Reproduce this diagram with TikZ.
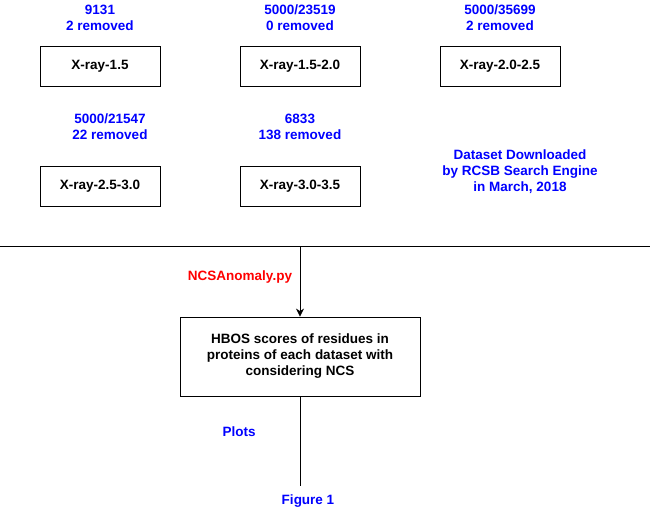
\documentclass[tikz,border=0pt]{standalone}
\usepackage{fontspec}
\setmainfont{Liberation Sans}
\usetikzlibrary{arrows.meta,positioning}

\begin{document}
\begin{tikzpicture}[%
    x=1pt, y=-1pt,              % work in picture pixels, top-down
    font=\bfseries\fontsize{13.5}{16}\selectfont,
    ]
% -------------------------------------------------
% A few box styles
\tikzset{
  base/.style={align=center, inner sep=0pt},
  set/.style={base, draw, thick, minimum width=120pt, minimum height=40pt},
  proc/.style={base, draw, thick, minimum width=240pt, minimum height=79pt},
  info/.style={base, text=blue},
  tool/.style={base, text=red},
  norm/.style={-{Stealth[length=8pt,width=8pt,inset=2.5pt]}, draw, thick},
}
\useasboundingbox (0,0) rectangle (653,517);
% -------------------------------------------------
% Datasets and their counts
\node [set] (a) at (100,66)  {X-ray-1.5};
\node [set] (b) at (300,66)  {X-ray-1.5-2.0};
\node [set] (c) at (500,66)  {X-ray-2.0-2.5};
\node [set] (d) at (100,186) {X-ray-2.5-3.0};
\node [set] (e) at (300,186) {X-ray-3.0-3.5};

\node [info] (na) at (100,18)  {9131\\2 removed};
\node [info] (nb) at (300,18)  {5000/23519\\0 removed};
\node [info] (nc) at (500,18)  {5000/35699\\2 removed};
\node [info] (nd) at (110,127) {5000/21547\\22 removed};
\node [info] (ne) at (300,127) {6833\\138 removed};
\node [info] (src) at (520,172) {Dataset Downloaded\\by RCSB Search Engine\\in March, 2018};

% -------------------------------------------------
% Processing
\coordinate (ll) at (0,246);
\coordinate (lr) at (650,246);
\coordinate (lm) at (300,246);
\draw [thick] (ll) -- (lr);

\node [proc] (h) at (300,356.5) {HBOS scores of residues in\\proteins of each dataset with\\considering NCS};
\node [tool] (py) at (240,277) {NCSAnomaly.py};
\draw [norm] (lm) -- (h.north);

\node [info] (pl) at (239,432) {Plots};
\node [info] (f) at (308,501) {Figure 1};
\coordinate (fe) at (300,486);
\draw [thick] (h.south) -- (fe);

% -------------------------------------------------
\end{tikzpicture}
\end{document}
